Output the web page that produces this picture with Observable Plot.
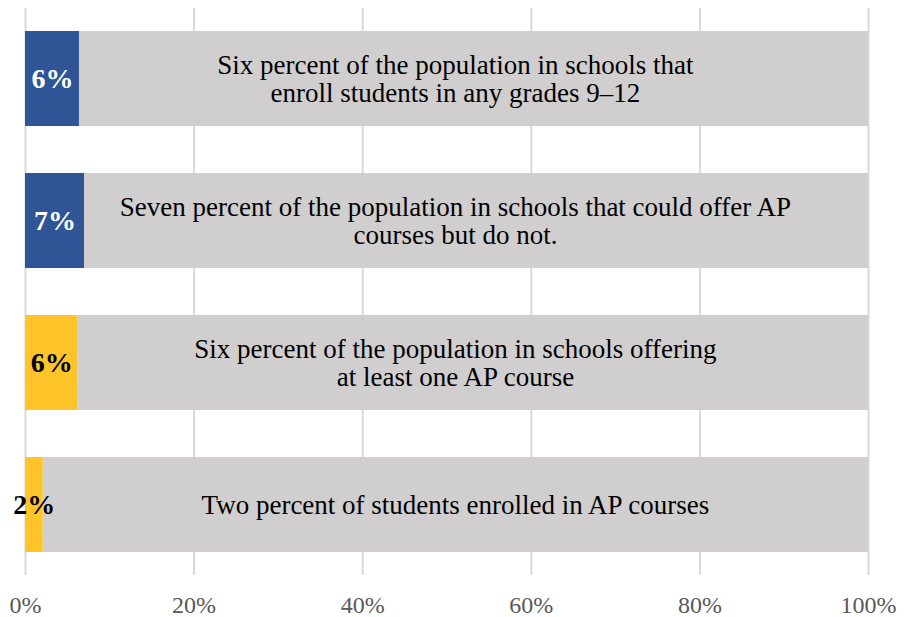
<!DOCTYPE html>
<html>
<head>
<meta charset="utf-8">
<script src="https://cdn.jsdelivr.net/npm/d3@7"></script>
<script src="https://cdn.jsdelivr.net/npm/@observablehq/plot@0.6"></script>
<style>
  html, body { margin: 0; padding: 0; background: #fff; }
  #chart svg { display: block; }
</style>
</head>
<body>
<div id="chart"></div>
<script>
const categories = ["grades912", "couldOffer", "offering", "enrolled"];
const values = [6.4, 7.0, 6.2, 2.1];
const valueLabels = ["6%", "7%", "6%", "2%"];
const groups = ["blue", "blue", "gold", "gold"];
const descriptions = [
  "Six percent of the population in schools that\nenroll students in any grades 9\u201312",
  "Seven percent of the population in schools that could offer AP\ncourses but do not.",
  "Six percent of the population in schools offering\nat least one AP course",
  "Two percent of students enrolled in AP courses"
];
const xTicks = [0, 20, 40, 60, 80, 100];

const rows = categories.map((c, i) => ({
  cat: c, value: values[i], label: valueLabels[i], group: groups[i], desc: descriptions[i]
}));

const fillColors = { blue: "#2f5597", gold: "#ffc42a" };
const labelColors = { blue: "#ffffff", gold: "#000000" };

const chart = Plot.plot({
  width: 913,
  height: 617,
  marginLeft: 25,
  marginRight: 45,
  marginTop: 8,
  marginBottom: 42,
  style: { fontFamily: "'Liberation Serif', 'Times New Roman', serif", background: "#fff" },
  x: { domain: [0, 100], ticks: xTicks, tickFormat: d => d + "%", label: null },
  y: { domain: categories, paddingInner: 0.333, paddingOuter: 0.159, axis: null },
  marks: [
    Plot.gridX(xTicks, { stroke: "#d9d9d9", strokeOpacity: 1, strokeWidth: 2 }),
    Plot.axisX({ ticks: xTicks, tickFormat: d => d + "%", tickSize: 0, tickPadding: 20, fontSize: 24, fill: "#595959", label: null }),
    Plot.barX(rows, { y: "cat", x1: "value", x2: 100, fill: "#d0cece" }),
    Plot.barX(rows, { y: "cat", x1: 0, x2: "value", fill: d => fillColors[d.group] }),
    Plot.text(rows, { y: "cat", x: d => d.value / 2, text: "label", fill: d => labelColors[d.group], fontSize: 28, fontWeight: "bold" }),
    Plot.text(rows, { y: "cat", x: 51, text: "desc", fill: "#000", fontSize: 27, lineHeight: 1.06 })
  ]
});
document.getElementById("chart").appendChild(chart);
</script>
</body>
</html>
